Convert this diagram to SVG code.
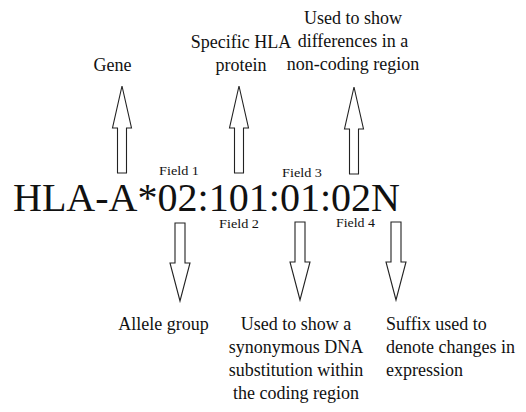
<svg xmlns="http://www.w3.org/2000/svg" width="526" height="412" viewBox="0 0 526 412">
<style>
text{font-family:"Liberation Serif",Tinos,"Times New Roman","DejaVu Serif",serif;fill:#111}
.lbl{font-size:18px}
.fld{font-size:12px}
.main{font-size:40px}
.arr{fill:#fff;stroke:#222;stroke-width:1.1;stroke-linejoin:miter}
</style>
<defs>
<polygon id="up" class="arr" points="0,0 9.5,42 4.5,42 4.5,87 -4.5,87 -4.5,42 -9.5,42"/>
<polygon id="down" class="arr" points="0,0 -10,-38 -5,-38 -5,-78 5,-78 5,-38 10,-38"/>
</defs>
<rect width="526" height="412" fill="#fff"/>
<g id="connectors">
<use href="#up" x="122" y="86"/>
<use href="#up" x="239" y="86"/>
<use href="#up" x="354" y="87"/>
<use href="#down" x="180" y="301"/>
<use href="#down" x="300" y="300"/>
<use href="#down" x="396" y="300"/>
</g>
<g id="code">
<text class="main" x="13" y="211" textLength="387" lengthAdjust="spacingAndGlyphs">HLA-A*02:101:01:02N</text>
</g>
<g id="field1"><text class="fld" x="159" y="175" textLength="40" lengthAdjust="spacingAndGlyphs">Field 1</text></g>
<g id="field2"><text class="fld" x="219" y="228" textLength="40" lengthAdjust="spacingAndGlyphs">Field 2</text></g>
<g id="field3"><text class="fld" x="282" y="176.5" textLength="40" lengthAdjust="spacingAndGlyphs">Field 3</text></g>
<g id="field4"><text class="fld" x="336" y="227" textLength="39" lengthAdjust="spacingAndGlyphs">Field 4</text></g>
<g id="gene"><text class="lbl" x="112.5" y="71" text-anchor="middle">Gene</text></g>
<g id="protein"><text class="lbl" text-anchor="middle"><tspan x="241" y="48">Specific HLA</tspan><tspan x="241" y="71">protein</tspan></text></g>
<g id="noncoding"><text class="lbl" text-anchor="middle"><tspan x="353" y="24">Used to show</tspan><tspan x="353" y="47">differences in a</tspan><tspan x="353" y="70">non-coding region</tspan></text></g>
<g id="allele"><text class="lbl" x="163.5" y="330" text-anchor="middle">Allele group</text></g>
<g id="synonymous"><text class="lbl" text-anchor="middle"><tspan x="296" y="330">Used to show a</tspan><tspan x="296" y="353">synonymous DNA</tspan><tspan x="296" y="376">substitution within</tspan><tspan x="296" y="399">the coding region</tspan></text></g>
<g id="suffix"><text class="lbl"><tspan x="386" y="330">Suffix used to</tspan><tspan x="386" y="353">denote changes in</tspan><tspan x="386" y="376">expression</tspan></text></g>
</svg>
